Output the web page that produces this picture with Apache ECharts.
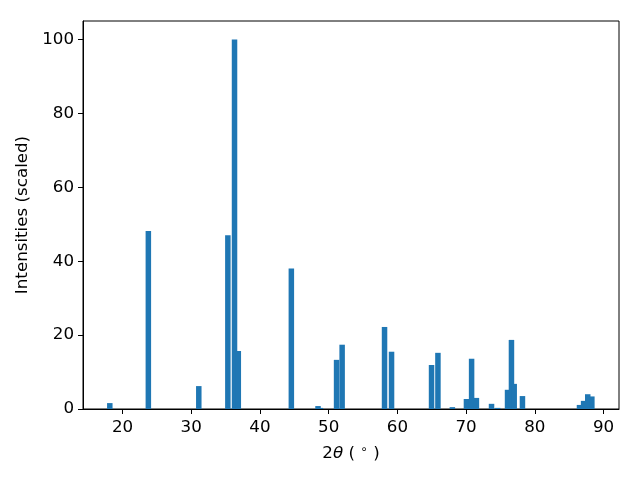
<!DOCTYPE html>
<html>
<head>
<meta charset="utf-8">
<script src="https://cdn.jsdelivr.net/npm/echarts@6/dist/echarts.min.js"></script>
<style>html,body{margin:0;padding:0;background:#fff;}#c{width:640px;height:480px;}</style>
</head>
<body>
<div id="c"></div>
<script>
const twoTheta = [18.15, 23.76, 31.1, 35.33, 36.3, 36.85, 44.57, 48.45, 48.8, 51.15, 51.96, 58.13, 59.15, 64.97, 65.9, 68.0, 70.05, 70.8, 71.5, 73.7, 74.6, 76.03, 76.6, 77.0, 78.2, 86.5, 87.1, 87.7, 88.3];
const intensities = [1.6, 48.2, 6.2, 47.0, 100, 15.7, 38.0, 0.8, 0.3, 13.3, 17.4, 22.2, 15.5, 11.9, 15.2, 0.5, 2.7, 13.6, 3.0, 1.4, 0.3, 5.2, 18.7, 6.8, 3.5, 1.1, 2.2, 4.0, 3.4];
const xTicks = [20, 30, 40, 50, 60, 70, 80, 90];
const yTicks = [0, 20, 40, 60, 80, 100];
const barWidthDeg = 0.8;

const chart = echarts.init(document.getElementById('c'), null, {renderer: 'canvas'});
const font = 'DejaVu Sans';
const fs = 16.7;
const data = twoTheta.map((t, i) => [t, intensities[i]]);
chart.setOption({
  animation: false,
  backgroundColor: '#fff',
  grid: {left: 83, right: 21, top: 21, bottom: 71, show: true, borderColor: '#000', borderWidth: 1, backgroundColor: 'transparent'},
  xAxis: {
    type: 'value', min: 14.25, max: 92.25,
    name: '2{i|θ} ( {s|∘} )', nameLocation: 'middle', nameGap: 35,
    nameTextStyle: {fontFamily: font, fontSize: fs, color: '#000',
      rich: {i: {fontStyle: 'italic', fontFamily: font, fontSize: fs, color: '#000'},
             s: {fontFamily: font, fontSize: 12, color: '#000', verticalAlign: 'top', padding: [0, 0, 7, 0]}}},
    axisLine: {show: true, onZero: false, lineStyle: {color: '#000', width: 1}},
    axisTick: {show: true, length: 5, inside: false, customValues: xTicks, lineStyle: {color: '#000'}},
    axisLabel: {customValues: xTicks, fontFamily: font, fontSize: fs, color: '#000', margin: 10},
    splitLine: {show: false}
  },
  yAxis: {
    type: 'value', min: 0, max: 105,
    name: 'Intensities (scaled)', nameLocation: 'middle', nameGap: 45, nameRotate: 90,
    nameTextStyle: {fontFamily: font, fontSize: fs, color: '#000'},
    axisLine: {show: true, lineStyle: {color: '#000', width: 1}},
    axisTick: {show: true, length: 5, inside: false, customValues: yTicks, lineStyle: {color: '#000'}},
    axisLabel: {customValues: yTicks, fontFamily: font, fontSize: fs, color: '#000', margin: 9, padding: [4, 0, 0, 0]},
    splitLine: {show: false}
  },
  series: [{
    type: 'custom',
    data: data,
    clip: true,
    renderItem: function (params, api) {
      const x = api.value(0), y = api.value(1);
      const p0 = api.coord([x - barWidthDeg / 2, 0]);
      const p1 = api.coord([x + barWidthDeg / 2, y]);
      return {type: 'rect', shape: {x: p0[0], y: p1[1], width: p1[0] - p0[0], height: p0[1] - p1[1]}, style: {fill: '#1f77b4'}};
    }
  }]
});
</script>
</body>
</html>
